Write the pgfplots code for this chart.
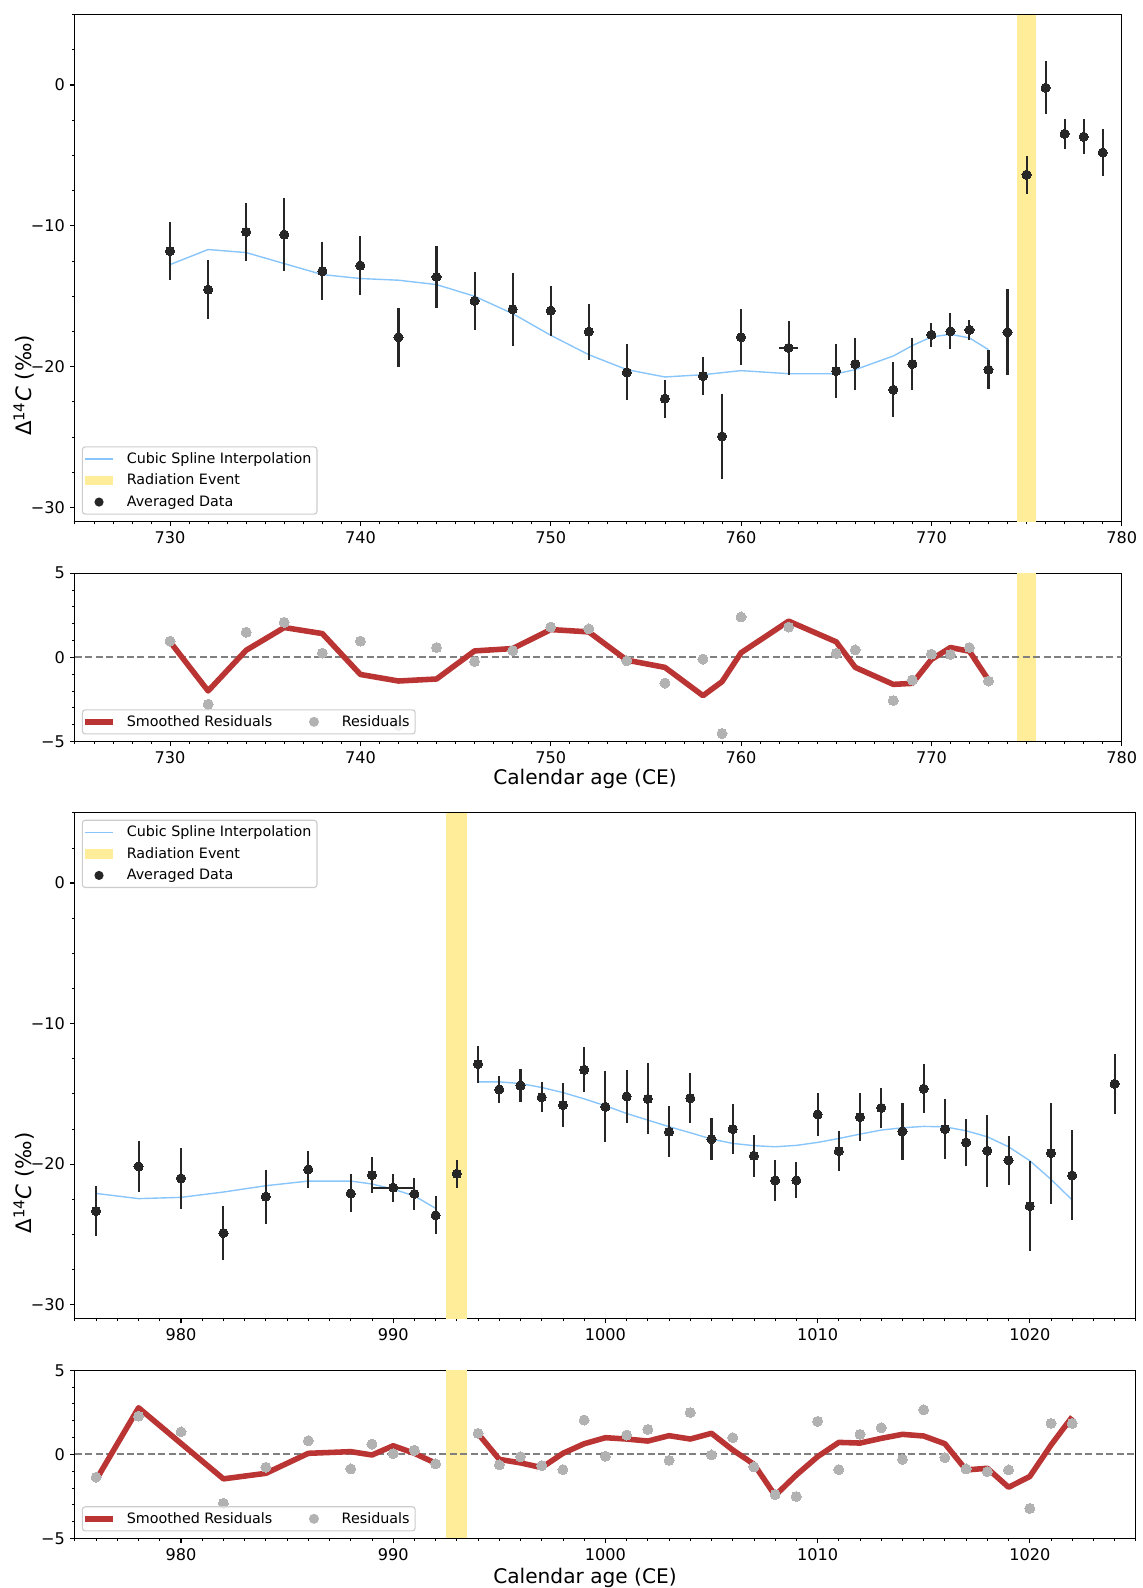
\documentclass[border=0pt]{standalone}
\usepackage{pgfplots}
\pgfplotsset{compat=1.18}
\usepackage{fontspec}
\setmainfont{DejaVu Sans}
\definecolor{splinecol}{RGB}{135,197,250}
\definecolor{bandcol}{RGB}{255,237,153}
\definecolor{datacol}{RGB}{38,38,38}
\definecolor{rescol}{RGB}{178,178,178}
\definecolor{smoothcol}{RGB}{186,52,52}
\definecolor{zerocol}{RGB}{128,128,128}
\definecolor{legframe}{RGB}{204,204,204}

\pgfplotsset{
  base/.style={
    scale only axis,
    axis line style={line width=0.8pt, black},
    tick align=outside,
    xtick pos=bottom, ytick pos=left,
    major tick length=3.5pt, minor tick length=2pt,
    tick style={black, line width=0.8pt},
    minor tick style={line width=0.6pt},
    tick label style={font=\fontsize{11.6}{14}\selectfont},
    xticklabel style={anchor=north, inner sep=0pt, yshift=-3.5pt},
    yticklabel style={anchor=east, inner sep=0pt, xshift=-3.5pt},
    legend cell align=left,
    legend style={
      draw=legframe, line width=0.8pt, rounded corners=2pt,
      fill=white, fill opacity=0.8, text opacity=1, draw opacity=1,
      font=\fontsize{10.3}{12}\selectfont,
      inner xsep=2pt, inner ysep=2pt,
      nodes={inner sep=2pt},
      cells={anchor=west},
      row sep=2.2pt,
      /tikz/every odd column/.append style={column sep=8pt},
    },
  },
  bandimg/.style={legend image code/.code={\path[draw=none, fill=none] (0pt,-3.5pt) rectangle (20pt,3.5pt);
     \begin{pgfinterruptboundingbox}\fill[bandcol, fill opacity=1, sharp corners, draw=none] (0pt,-3.5pt) rectangle (20pt,3.5pt);\end{pgfinterruptboundingbox}}},
  splineimg/.style={legend image code/.code={\path[draw=none, fill=none] (0pt,-3.5pt) rectangle (20pt,3.5pt);
     \begin{pgfinterruptboundingbox}\draw[splinecol, line width=1pt, draw opacity=1] (0pt,0pt) -- (20pt,0pt);\end{pgfinterruptboundingbox}}},
  dataimg/.style={legend image code/.code={\path[draw=none, fill=none] (0pt,-3.5pt) rectangle (20pt,3.5pt);
     \begin{pgfinterruptboundingbox}\fill[datacol, fill opacity=1, draw=none] (10pt,0pt) circle (3.3pt);\end{pgfinterruptboundingbox}}},
  smoothimg/.style={legend image code/.code={\path[draw=none, fill=none] (0pt,-3.5pt) rectangle (20pt,3.5pt);
     \begin{pgfinterruptboundingbox}\draw[smoothcol, line width=4pt, draw opacity=1] (0pt,0pt) -- (20pt,0pt);\end{pgfinterruptboundingbox}}},
  resimg/.style={legend image code/.code={\path[draw=none, fill=none] (0pt,-3.5pt) rectangle (20pt,3.5pt);
     \begin{pgfinterruptboundingbox}\fill[rescol, fill opacity=1, draw=none] (10pt,0pt) circle (3.6pt);\end{pgfinterruptboundingbox}}},
  dataplot/.style={forget plot, only marks, mark=*, mark size=3.3pt, color=datacol, mark options={draw=datacol, fill=datacol, line width=0pt},
    error bars/.cd, y dir=both, y explicit,
    error bar style={line width=1.5pt, datacol}, error mark=none},
  dataplotxy/.style={forget plot, only marks, mark=*, mark size=3.3pt, color=datacol, mark options={draw=datacol, fill=datacol, line width=0pt},
    error bars/.cd, y dir=both, y explicit, x dir=both, x explicit,
    error bar style={line width=1.5pt, datacol}, error mark=none},
  resplot/.style={forget plot, only marks, mark=*, mark size=3.6pt, color=rescol, mark options={draw=rescol, fill=rescol, line width=0pt}},
  smoothplot/.style={forget plot, smoothcol, line width=4pt, line join=round},
}

\begin{document}
\begin{tikzpicture}
\useasboundingbox (0pt,0pt) rectangle (822.24pt,-1143.36pt);

% ---------------- Top main panel ----------------
\begin{axis}[base,
  at={(53.93pt,-10.51pt)}, anchor=north west,
  width=753.7pt, height=365.04pt,
  xmin=725, xmax=780, ymin=-31, ymax=5,
  xtick={730,740,750,760,770,780}, xticklabels={730,740,750,760,770,780},
  minor xtick={725,...,780},
  ytick={-30,-20,-10,0}, yticklabels={−30,−20,−10,0},
  minor ytick={-30,-27.5,...,5},
  ylabel={Δ\textsuperscript{14}\textit{C} (‰)},
  ylabel style={at={(axis description cs:-0.0486,0.2683)}, anchor=center, font=\fontsize{15.3}{18}\selectfont},
  legend style={at={(0.0066,0.0137)}, anchor=south west},
]
\addplot[draw=none, fill=bandcol, forget plot] coordinates {(774.5,-31) (774.5,5) (775.5,5) (775.5,-31)} -- cycle;
\addplot[splinecol, line width=1pt, forget plot] coordinates {
(730,-12.75) (732,-11.68) (734,-11.90) (736,-12.68) (738,-13.46) (740,-13.74) (742,-13.86) (744,-14.17)
(746,-15.00) (748,-16.23) (750,-17.77) (752,-19.15) (754,-20.21) (756,-20.73) (758,-20.57) (760,-20.28)
(762.5,-20.50) (765,-20.50) (766,-20.21) (768,-19.24) (769,-18.50) (770,-17.89) (771,-17.70) (772,-17.96) (773,-18.79)};
\addplot[dataplot] coordinates {
(730,-11.80) +- (0,2.08)
(732,-14.53) +- (0,2.07)
(734,-10.43) +- (0,2.07)
(736,-10.62) +- (0,2.57)
(738,-13.22) +- (0,2.08)
(740,-12.82) +- (0,2.09)
(742,-17.91) +- (0,2.09)
(744,-13.63) +- (0,2.20)
(746,-15.33) +- (0,2.08)
(748,-15.92) +- (0,2.58)
(750,-16.02) +- (0,1.78)
(752,-17.51) +- (0,1.99)
(754,-20.40) +- (0,1.99)
(756,-22.27) +- (0,1.34)
(758,-20.66) +- (0,1.34)
(759,-24.95) +- (0,3.01)
(760,-17.91) +- (0,1.99)
(765,-20.31) +- (0,1.93)
(766,-19.81) +- (0,1.82)
(768,-21.64) +- (0,1.94)
(769,-19.81) +- (0,1.82)
(770,-17.73) +- (0,0.85)
(771,-17.49) +- (0,1.28)
(772,-17.39) +- (0,0.71)
(773,-20.21) +- (0,1.38)
(774,-17.56) +- (0,3.06)
(775,-6.37) +- (0,1.35)
(776,-0.19) +- (0,1.86)
(777,-3.46) +- (0,1.05)
(778,-3.67) +- (0,1.26)
(779,-4.79) +- (0,1.68)
};
\addplot[dataplotxy] coordinates {(762.5,-18.67) +- (0.5,1.93)};
\addlegendimage{splineimg}\addlegendentry{Cubic Spline Interpolation}
\addlegendimage{bandimg}\addlegendentry{Radiation Event}
\addlegendimage{dataimg}\addlegendentry{Averaged Data}
\end{axis}

% ---------------- Top residual panel ----------------
\begin{axis}[base,
  at={(53.93pt,-412.70pt)}, anchor=north west,
  width=753.7pt, height=121.1pt,
  xmin=725, xmax=780, ymin=-5, ymax=5,
  xtick={730,740,750,760,770,780}, xticklabels={730,740,750,760,770,780},
  minor xtick={725,...,780},
  ytick={-5,0,5}, yticklabels={−5,0,5},
  minor ytick={-5,...,5},
  xlabel={Calendar age (CE)},
  xlabel style={at={(axis description cs:0.4873,-0.2238)}, anchor=center, font=\fontsize{14.5}{17}\selectfont},
  legend columns=2,
  legend style={at={(0.0066,0.0413)}, anchor=south west, /tikz/every even column/.append style={column sep=18pt}},
]
\addplot[draw=none, fill=bandcol, forget plot] coordinates {(774.5,-5) (774.5,5) (775.5,5) (775.5,-5)} -- cycle;
\addplot[zerocol, dash pattern=on 5pt off 2.5pt, line width=1.3pt, forget plot] coordinates {(725,0) (780,0)};
\addplot[resplot] coordinates {
(730,0.96) (732,-2.79) (734,1.49) (736,2.08) (738,0.25) (740,0.96) (742,-4.04) (744,0.58) (746,-0.25)
(748,0.40) (750,1.80) (752,1.69) (754,-0.21) (756,-1.53) (758,-0.11) (759,-4.53) (760,2.40) (762.5,1.80)
(765,0.23) (766,0.44) (768,-2.57) (769,-1.35) (770,0.19) (771,0.17) (772,0.58) (773,-1.41)};
\addplot[smoothplot] coordinates {
(730,0.92) (732,-2.00) (734,0.42) (736,1.77) (738,1.41) (740,-1.02) (742,-1.41) (744,-1.29) (746,0.38)
(748,0.52) (750,1.65) (752,1.51) (754,-0.17) (756,-0.60) (758,-2.28) (759,-1.45) (760,0.27) (762.5,2.15)
(765,0.92) (766,-0.60) (768,-1.61) (769,-1.55) (770,-0.13) (771,0.58) (772,0.36) (773,-1.35)};
\addlegendimage{smoothimg}\addlegendentry{Smoothed Residuals}
\addlegendimage{resimg}\addlegendentry{Residuals}
\end{axis}

% ---------------- Bottom main panel ----------------
\begin{axis}[base,
  at={(53.93pt,-585.20pt)}, anchor=north west,
  width=763.9pt, height=364.2pt,
  xmin=975, xmax=1025, ymin=-31, ymax=5,
  xtick={980,990,1000,1010,1020}, xticklabels={980,990,1000,1010,1020},
  minor xtick={975,...,1025},
  ytick={-30,-20,-10,0}, yticklabels={−30,−20,−10,0},
  minor ytick={-30,-27.5,...,5},
  ylabel={Δ\textsuperscript{14}\textit{C} (‰)},
  ylabel style={at={(axis description cs:-0.04795,0.268)}, anchor=center, font=\fontsize{15.3}{18}\selectfont},
  legend style={at={(0.0065,0.9863)}, anchor=north west},
]
\addplot[draw=none, fill=bandcol, forget plot] coordinates {(992.5,-31) (992.5,5) (993.5,5) (993.5,-31)} -- cycle;
\addplot[splinecol, line width=1pt, forget plot] coordinates {
(976,-22.09) (978,-22.46) (980,-22.37) (982,-21.99) (984,-21.54) (986,-21.21) (988,-21.21) (989,-21.42)
(990,-21.78) (991,-22.27) (992,-23.15)};
\addplot[splinecol, line width=1pt, forget plot] coordinates {
(994,-14.15) (995,-14.15) (996,-14.27) (997,-14.55) (998,-14.91) (999,-15.36) (1000,-15.85) (1001,-16.40)
(1002,-16.87) (1003,-17.34) (1004,-17.77) (1005,-18.22) (1006,-18.53) (1007,-18.69) (1008,-18.77) (1009,-18.67)
(1010,-18.46) (1011,-18.18) (1012,-17.87) (1013,-17.58) (1014,-17.42) (1015,-17.32) (1016,-17.35) (1017,-17.63)
(1018,-18.06) (1019,-18.77) (1020,-19.76) (1021,-21.09) (1022,-22.56)};
\addplot[dataplot] coordinates {
(976,-23.34) +- (0,1.80)
(978,-20.17) +- (0,1.83)
(980,-21.02) +- (0,2.18)
(982,-24.91) +- (0,1.92)
(984,-22.32) +- (0,1.92)
(986,-20.38) +- (0,1.32)
(988,-22.09) +- (0,1.35)
(989,-20.78) +- (0,1.28)
(991,-22.13) +- (0,1.15)
(992,-23.65) +- (0,1.35)
(993,-20.69) +- (0,0.98)
(994,-12.89) +- (0,1.32)
(995,-14.69) +- (0,0.97)
(996,-14.41) +- (0,1.15)
(997,-15.24) +- (0,1.07)
(998,-15.81) +- (0,1.55)
(999,-13.29) +- (0,1.59)
(1000,-15.92) +- (0,2.54)
(1001,-15.19) +- (0,1.90)
(1002,-15.36) +- (0,2.52)
(1003,-17.70) +- (0,1.80)
(1004,-15.31) +- (0,1.78)
(1005,-18.22) +- (0,1.48)
(1006,-17.51) +- (0,1.77)
(1007,-19.41) +- (0,1.48)
(1008,-21.16) +- (0,1.47)
(1009,-21.16) +- (0,1.29)
(1010,-16.47) +- (0,1.56)
(1011,-19.08) +- (0,1.44)
(1012,-16.66) +- (0,1.69)
(1013,-16.00) +- (0,1.42)
(1014,-17.68) +- (0,2.06)
(1015,-14.64) +- (0,1.74)
(1016,-17.51) +- (0,2.16)
(1017,-18.46) +- (0,1.66)
(1018,-19.05) +- (0,2.56)
(1019,-19.72) +- (0,1.74)
(1020,-22.99) +- (0,3.20)
(1021,-19.22) +- (0,3.60)
(1022,-20.81) +- (0,3.20)
(1024,-14.29) +- (0,2.13)
};
\addplot[dataplotxy] coordinates {(990,-21.68) +- (1.0,1.00)};
\addlegendimage{splineimg}\addlegendentry{Cubic Spline Interpolation}
\addlegendimage{bandimg}\addlegendentry{Radiation Event}
\addlegendimage{dataimg}\addlegendentry{Averaged Data}
\end{axis}

% ---------------- Bottom residual panel ----------------
\begin{axis}[base,
  at={(53.93pt,-986.60pt)}, anchor=north west,
  width=763.9pt, height=121.0pt,
  xmin=975, xmax=1025, ymin=-5, ymax=5,
  xtick={980,990,1000,1010,1020}, xticklabels={980,990,1000,1010,1020},
  minor xtick={975,...,1025},
  ytick={-5,0,5}, yticklabels={−5,0,5},
  minor ytick={-5,...,5},
  xlabel={Calendar age (CE)},
  xlabel style={at={(axis description cs:0.4808,-0.2364)}, anchor=center, font=\fontsize{14.5}{17}\selectfont},
  legend columns=2,
  legend style={at={(0.0065,0.0413)}, anchor=south west, /tikz/every even column/.append style={column sep=18pt}},
]
\addplot[draw=none, fill=bandcol, forget plot] coordinates {(992.5,-5) (992.5,5) (993.5,5) (993.5,-5)} -- cycle;
\addplot[zerocol, dash pattern=on 5pt off 2.5pt, line width=1.3pt, forget plot] coordinates {(975,0) (1025,0)};
\addplot[resplot] coordinates {
(976,-1.36) (978,2.27) (980,1.34) (982,-2.91) (984,-0.77) (986,0.81) (988,-0.87) (989,0.61) (990,0.04)
(991,0.24) (992,-0.57) (994,1.25) (995,-0.63) (996,-0.14) (997,-0.67) (998,-0.91) (999,2.04) (1000,-0.11)
(1001,1.15) (1002,1.48) (1003,-0.36) (1004,2.49) (1005,-0.04) (1006,0.99) (1007,-0.75) (1008,-2.39)
(1009,-2.51) (1010,1.96) (1011,-0.91) (1012,1.19) (1013,1.58) (1014,-0.30) (1015,2.65) (1016,-0.20)
(1017,-0.87) (1018,-1.03) (1019,-0.93) (1020,-3.22) (1021,1.84) (1022,1.84)};
\addplot[smoothplot] coordinates {
(976,-1.52) (978,2.77) (980,0.65) (982,-1.46) (984,-1.13) (986,0.06) (988,0.16) (989,-0.04) (990,0.51)
(991,0.06) (992,-0.53)};
\addplot[smoothplot] coordinates {
(994,1.23) (995,-0.30) (996,-0.51) (997,-0.79) (998,0.06) (999,0.63) (1000,0.99) (1001,0.91) (1002,0.79)
(1003,1.11) (1004,0.91) (1005,1.25) (1006,0.26) (1007,-0.59) (1008,-2.45) (1009,-1.23) (1010,-0.14)
(1011,0.71) (1012,0.67) (1013,0.95) (1014,1.19) (1015,1.09) (1016,0.63) (1017,-0.93) (1018,-0.83)
(1019,-1.96) (1020,-1.32) (1021,0.55) (1022,2.23)};
\addlegendimage{smoothimg}\addlegendentry{Smoothed Residuals}
\addlegendimage{resimg}\addlegendentry{Residuals}
\end{axis}
\end{tikzpicture}
\end{document}
